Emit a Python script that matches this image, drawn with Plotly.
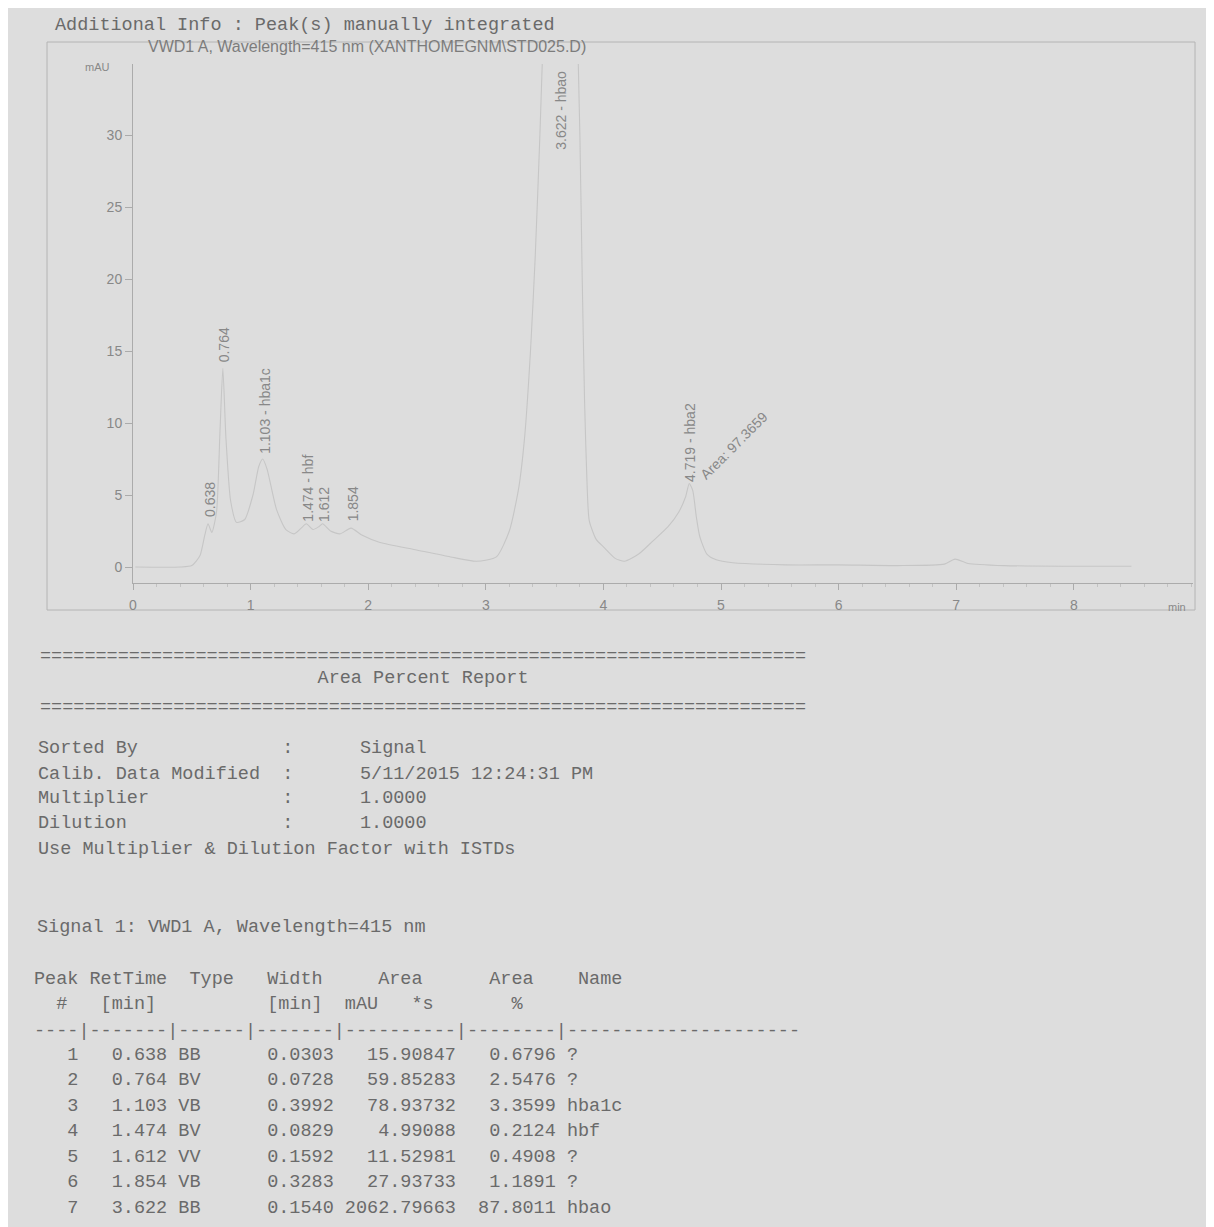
import plotly.graph_objects as go

W, H = 1214, 1227

# ---------------- chromatogram trace (time [min], signal [mAU]) ----------------
time_min = [0.02, 0.40, 0.50, 0.57, 0.61, 0.638, 0.67, 0.71, 0.74, 0.764,
            0.79, 0.83, 0.88, 0.95, 1.02, 1.07, 1.103, 1.14, 1.22, 1.30,
            1.37, 1.43, 1.474, 1.53, 1.58, 1.612, 1.68, 1.76, 1.854, 1.95,
            2.10, 2.40, 2.70, 2.92, 3.09, 3.20, 3.28, 3.33, 3.38, 3.42,
            3.46, 3.50, 3.62, 3.77, 3.80, 3.82, 3.84, 3.86, 3.88, 3.94,
            4.00, 4.10, 4.18, 4.30, 4.42, 4.55, 4.64, 4.70, 4.73, 4.76,
            4.79, 4.82, 4.88, 4.96, 5.10, 5.55, 6.00, 6.50, 6.90, 6.99,
            7.10, 7.41, 8.00, 8.49]
signal_mau = [0.0, 0.0, 0.1, 0.8, 2.2, 3.0, 2.4, 3.8, 9.5, 13.8,
              9.0, 4.6, 3.1, 3.3, 5.0, 7.0, 7.5, 6.8, 4.0, 2.6,
              2.3, 2.7, 3.0, 2.6, 2.8, 3.0, 2.5, 2.3, 2.7, 2.2,
              1.7, 1.2, 0.7, 0.4, 0.7, 2.5, 5.5, 9.0, 15.0, 21.5,
              30.0, 40.0, 70.0, 40.0, 30.0, 20.0, 11.5, 6.0, 3.2, 1.9,
              1.4, 0.6, 0.4, 0.9, 1.8, 2.8, 3.8, 4.9, 5.8, 5.3,
              3.5, 2.1, 0.9, 0.5, 0.3, 0.15, 0.15, 0.1, 0.2, 0.55,
              0.25, 0.1, 0.05, 0.05]

# ---------------- peak labels on the chart ----------------
label_time = [0.638, 0.764, 1.103, 1.474, 1.612, 1.854, 3.622, 4.719]
label_text = ["0.638", "0.764", "1.103 - hba1c", "1.474 - hbf", "1.612",
              "1.854", "3.622 - hbao", "4.719 - hba2"]
label_apex = [3.3, 14.1, 7.7, 3.0, 3.0, 3.0, None, 5.8]
area_note = "Area: 97.3659"

x_ticks = [0, 1, 2, 3, 4, 5, 6, 7, 8]
y_ticks = [0, 5, 10, 15, 20, 25, 30]

# ---------------- report table ----------------
peak_no = [1, 2, 3, 4, 5, 6, 7]
ret_time = [0.638, 0.764, 1.103, 1.474, 1.612, 1.854, 3.622]
peak_type = ["BB", "BV", "VB", "BV", "VV", "VB", "BB"]
width_min = [0.0303, 0.0728, 0.3992, 0.0829, 0.1592, 0.3283, 0.1540]
area_mau_s = [15.90847, 59.85283, 78.93732, 4.99088, 11.52981, 27.93733, 2062.79663]
area_pct = [0.6796, 2.5476, 3.3599, 0.2124, 0.4908, 1.1891, 87.8011]
peak_name = ["?", "?", "hba1c", "hbf", "?", "?", "hbao"]

info_keys = ["Sorted By", "Calib. Data Modified", "Multiplier", "Dilution"]
info_vals = ["Signal", "5/11/2015 12:24:31 PM", "1.0000", "1.0000"]

# ---------------- styling ----------------
BG = "#dddddd"
MONO = "Liberation Mono"
SANS = "Liberation Sans"
TXT = "#6a6a6a"
CHART_TXT = "#888888"
LINE = "#ababab"
MONO_SIZE = 18.5
OFF = 8  # page body margin of the browser

X0_PX, X1_PX = 133, 1193
PX_PER_MIN = 117.6
Y_TOP_PX, Y_BOT_PX = 64, 583
Y_RANGE = [-1.11, 34.93]


def pxx(x):
    return (x - OFF) / W


def pxy(y):
    return 1 - (y - OFF) / H


def nb(s):
    return s.replace(" ", "\u00a0")


fig = go.Figure()
fig.add_trace(go.Scatter(x=time_min, y=signal_mau, mode="lines",
                         line=dict(color="#c6c6c6", width=1.1, shape="spline", smoothing=0.6),
                         hoverinfo="skip", showlegend=False))

fig.update_layout(
    width=W, height=H, autosize=False,
    margin=dict(l=0, r=0, t=0, b=0),
    paper_bgcolor=BG, plot_bgcolor=BG,
    showlegend=False,
    xaxis=dict(domain=[pxx(X0_PX), pxx(X1_PX)],
               range=[0, (X1_PX - X0_PX) / PX_PER_MIN],
               tickvals=x_ticks, ticktext=[str(t) for t in x_ticks],
               showline=True, linecolor=LINE, linewidth=1,
               ticks="outside", ticklen=6, tickcolor=LINE,
               minor=dict(ticks="outside", ticklen=3, dtick=0.2, tickcolor="#c2c2c2"),
               showgrid=False, zeroline=False, automargin=False,
               ticklabelstandoff=3,
               tickfont=dict(family=SANS, size=14, color=CHART_TXT)),
    yaxis=dict(domain=[pxy(Y_BOT_PX), pxy(Y_TOP_PX)],
               range=Y_RANGE,
               tickvals=y_ticks, ticktext=[str(t) for t in y_ticks],
               showline=True, linecolor=LINE, linewidth=1,
               ticks="outside", ticklen=7, tickcolor=LINE,
               showgrid=False, zeroline=False, automargin=False,
               tickfont=dict(family=SANS, size=14, color=CHART_TXT)),
)

# outer frame of the chart
fig.add_shape(type="rect", xref="paper", yref="paper",
              x0=pxx(47), x1=pxx(1195), y0=pxy(610), y1=pxy(42),
              line=dict(color="#b4b4b4", width=1), fillcolor="rgba(0,0,0,0)", layer="below")

ann = []
# chart texts
ann.append(dict(text="VWD1 A, Wavelength=415 nm (XANTHOMEGNM\\STD025.D)", x=pxx(146), y=pxy(46),
                xref="paper", yref="paper", xanchor="left", yanchor="middle", showarrow=False,
                font=dict(family=SANS, size=16, color="#7c7c7c")))
ann.append(dict(text="mAU", x=pxx(97), y=pxy(67), xref="paper", yref="paper",
                xanchor="center", yanchor="middle", showarrow=False,
                font=dict(family=SANS, size=11, color=CHART_TXT)))
ann.append(dict(text="min", x=pxx(1177), y=pxy(607), xref="paper", yref="paper",
                xanchor="center", yanchor="middle", showarrow=False,
                font=dict(family=SANS, size=11, color=CHART_TXT)))

for t, txt, apex in zip(label_time, label_text, label_apex):
    if apex is None:
        ann.append(dict(text=txt, x=t, y=Y_RANGE[1] - 0.3, xref="x", yref="y",
                        xanchor="center", yanchor="top", textangle=-90, showarrow=False,
                        xshift=2, font=dict(family=SANS, size=14, color=CHART_TXT)))
    else:
        ann.append(dict(text=txt, x=t, y=apex, xref="x", yref="y",
                        xanchor="center", yanchor="bottom", textangle=-90, showarrow=False,
                        xshift=2, font=dict(family=SANS, size=14, color=CHART_TXT)))

ann.append(dict(text=area_note, x=label_time[-1], y=label_apex[-1], xref="x", yref="y",
                xanchor="left", yanchor="bottom", textangle=-45, showarrow=False,
                xshift=6, yshift=-2, font=dict(family=SANS, size=14, color=CHART_TXT)))


def mono_line(text, x, y, color=TXT):
    ann.append(dict(text=nb(text), x=pxx(x), y=pxy(y), xref="paper", yref="paper",
                    xanchor="left", yanchor="middle", showarrow=False,
                    font=dict(family=MONO, size=MONO_SIZE, color=color)))


mono_line("Additional Info : Peak(s) manually integrated", 53, 25)
mono_line("=" * 69, 38, 656)
mono_line(" " * 25 + "Area Percent Report", 38, 678)
mono_line("=" * 69, 38, 707)

info_y = [748, 774, 798, 823]
for k, v, y in zip(info_keys, info_vals, info_y):
    mono_line(k.ljust(22) + ":" + " " * 6 + v, 36, y)
mono_line("Use Multiplier & Dilution Factor with ISTDs", 36, 849)
mono_line("Signal 1: VWD1 A, Wavelength=415 nm", 35, 927)

hdr1 = "Peak" + " " + "RetTime" + "  " + "Type" + "   " + "Width" + " " * 5 + "Area" + " " * 6 + "Area" + " " * 4 + "Name"
hdr2 = "  #   [min]" + " " * 10 + "[min]" + "  " + "mAU" + "   " + "*s" + " " * 7 + "%"
sep = "----|-------|------|-------|----------|--------|" + "-" * 21
mono_line(hdr1, 32, 979)
mono_line(hdr2, 32, 1004)
mono_line(sep, 32, 1031)

for i, (n, rt, tp, w, a, p, nm) in enumerate(zip(peak_no, ret_time, peak_type, width_min,
                                                  area_mau_s, area_pct, peak_name)):
    row = f"{n:>4d}{rt:>8.3f} {tp:<2}{'':6}{w:>6.4f}{a:>11.5f}{p:>9.4f} {nm}"
    mono_line(row, 32, 1055 + i * 25.5)

fig.update_layout(annotations=ann)
fig.write_html("out.html")
